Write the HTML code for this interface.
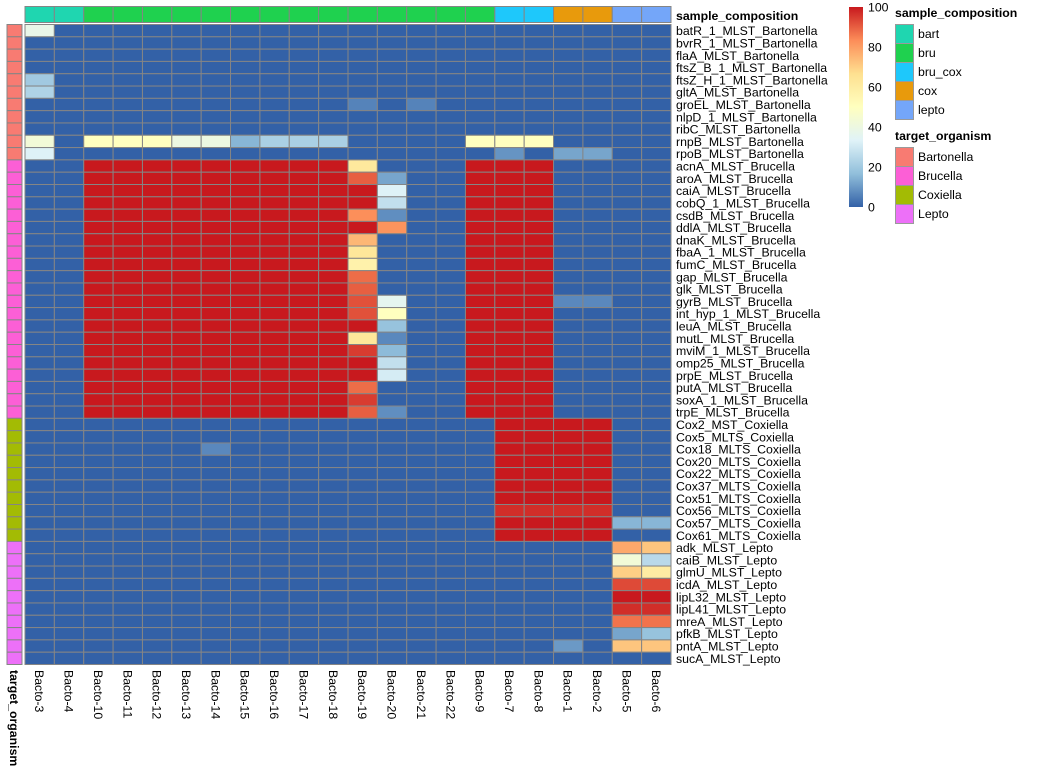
<!DOCTYPE html>
<html><head><meta charset="utf-8"><style>
body{margin:0;background:#fff;font-family:"Liberation Sans",sans-serif}
svg text{font-family:"Liberation Sans",sans-serif}
</style></head><body>
<svg id="chart" width="1057" height="774" xmlns="http://www.w3.org/2000/svg"></svg>
<script>
const columns=["Bacto-3","Bacto-4","Bacto-10","Bacto-11","Bacto-12","Bacto-13","Bacto-14","Bacto-15","Bacto-16","Bacto-17","Bacto-18","Bacto-19","Bacto-20","Bacto-21","Bacto-22","Bacto-9","Bacto-7","Bacto-8","Bacto-1","Bacto-2","Bacto-5","Bacto-6"];
const colGroups=["bart","bart","bru","bru","bru","bru","bru","bru","bru","bru","bru","bru","bru","bru","bru","bru","bru_cox","bru_cox","cox","cox","lepto","lepto"];
const rows=["batR_1_MLST_Bartonella","bvrR_1_MLST_Bartonella","flaA_MLST_Bartonella","ftsZ_B_1_MLST_Bartonella","ftsZ_H_1_MLST_Bartonella","gltA_MLST_Bartonella","groEL_MLST_Bartonella","nlpD_1_MLST_Bartonella","ribC_MLST_Bartonella","rnpB_MLST_Bartonella","rpoB_MLST_Bartonella",
"acnA_MLST_Brucella","aroA_MLST_Brucella","caiA_MLST_Brucella","cobQ_1_MLST_Brucella","csdB_MLST_Brucella","ddlA_MLST_Brucella","dnaK_MLST_Brucella","fbaA_1_MLST_Brucella","fumC_MLST_Brucella","gap_MLST_Brucella","glk_MLST_Brucella","gyrB_MLST_Brucella","int_hyp_1_MLST_Brucella","leuA_MLST_Brucella","mutL_MLST_Brucella","mviM_1_MLST_Brucella","omp25_MLST_Brucella","prpE_MLST_Brucella","putA_MLST_Brucella","soxA_1_MLST_Brucella","trpE_MLST_Brucella",
"Cox2_MST_Coxiella","Cox5_MLTS_Coxiella","Cox18_MLTS_Coxiella","Cox20_MLTS_Coxiella","Cox22_MLTS_Coxiella","Cox37_MLTS_Coxiella","Cox51_MLTS_Coxiella","Cox56_MLTS_Coxiella","Cox57_MLTS_Coxiella","Cox61_MLTS_Coxiella",
"adk_MLST_Lepto","caiB_MLST_Lepto","glmU_MLST_Lepto","icdA_MLST_Lepto","lipL32_MLST_Lepto","lipL41_MLST_Lepto","mreA_MLST_Lepto","pfkB_MLST_Lepto","pntA_MLST_Lepto","sucA_MLST_Lepto"];
const rowGroups=[].concat(Array(11).fill("Bartonella"),Array(21).fill("Brucella"),Array(10).fill("Coxiella"),Array(10).fill("Lepto"));
// Brucella columns 19 and 20 values
const bru19=[62,90,100,100,83,100,75,63,57,88,90,92,92,100,63,95,100,100,88,95,90];
const bru20=[0,12,33,27,8,82,0,0,0,0,0,36,50,18,7,16,27,31,0,0,8];
const values=[
[38,0,0,0,0,0,0,0,0,0,0,0,0,0,0,0,0,0,0,0,0,0],
[0,0,0,0,0,0,0,0,0,0,0,0,0,0,0,0,0,0,0,0,0,0],
[0,0,0,0,0,0,0,0,0,0,0,0,0,0,0,0,0,0,0,0,0,0],
[0,0,0,0,0,0,0,0,0,0,0,0,0,0,0,0,0,0,0,0,0,0],
[20,0,0,0,0,0,0,0,0,0,0,0,0,0,0,0,0,0,0,0,0,0],
[23,0,0,0,0,0,0,0,0,0,0,0,0,0,0,0,0,0,0,0,0,0],
[0,0,0,0,0,0,0,0,0,0,0,6,0,6,0,0,0,0,0,0,0,0],
[0,0,0,0,0,0,0,0,0,0,0,0,0,0,0,0,0,0,0,0,0,0],
[0,0,0,0,0,0,0,0,0,0,0,0,0,0,0,0,0,0,0,0,0,0],
[43,0,50,50,50,40,40,15,22,22,22,0,0,0,0,50,50,50,0,0,0,0],
[33,0,0,0,0,0,0,0,0,0,0,0,0,0,0,0,9,0,12,12,0,0]];
for(let i=0;i<21;i++){values.push([0,0,100,100,100,100,100,100,100,100,100,bru19[i],bru20[i],0,0,100,100,100,i==11?7:0,i==11?7:0,0,0]);}
const coxMax=[100,100,100,100,100,100,100,97,100,100];
for(let i=0;i<10;i++){const m=coxMax[i];values.push([0,0,0,0,0,0,i==2?7:0,0,0,0,0,0,0,0,0,0,m,m,m,m,i==8?15:0,i==8?15:0]);}
const lep5=[78,43,70,93,100,97,87,12,72,0];
const lep6=[72,25,60,93,100,97,87,18,72,0];
const lep1=[0,0,0,0,0,0,0,0,10,0];
for(let i=0;i<10;i++){values.push([0,0,0,0,0,0,0,0,0,0,0,0,0,0,0,0,0,0,lep1[i],0,lep5[i],lep6[i]]);}
const colTicks=[0,20,40,60,80,100];

const groupColors={bart:"#1fd6b0",bru:"#1fd14f",bru_cox:"#1ec8fb",cox:"#e89a0c",lepto:"#74a6f9",Bartonella:"#f87b72",Brucella:"#fc5fd6",Coxiella:"#a3bb04",Lepto:"#ed70f8"};
const stops=["#3361a7","#91bfdb","#e0f3f8","#ffffbf","#fee090","#fc8d59","#c8191e"];
function hex(c){return[1,3,5].map(i=>parseInt(c.substr(i,2),16));}
function color(v){const t=Math.max(0,Math.min(1,v/100))*(stops.length-1);const i=Math.min(stops.length-2,Math.floor(t));const f=t-i;const a=hex(stops[i]),b=hex(stops[i+1]);return"rgb("+a.map((x,k)=>Math.round(x+(b[k]-x)*f)).join(",")+")";}
const NS="http://www.w3.org/2000/svg";const svg=document.getElementById("chart");
function el(tag,attrs,parent){const e=document.createElementNS(NS,tag);for(const k in attrs)e.setAttribute(k,attrs[k]);(parent||svg).appendChild(e);return e;}
const X0=25,X1=671,Y0=24.5,Y1=664.5;
const cw=(X1-X0)/columns.length,rh=(Y1-Y0)/rows.length;
const xs=i=>X0+i*cw, ys=j=>Y0+j*rh;
// cells
for(let j=0;j<rows.length;j++){for(let i=0;i<columns.length;i++){
const r=el("rect",{x:xs(i),y:ys(j),width:cw,height:rh,fill:color(values[j][i]),stroke:"#858585","stroke-width":1});

}}
// column annotation
for(let i=0;i<columns.length;i++){const r=el("rect",{x:xs(i),y:6.5,width:cw,height:16,fill:groupColors[colGroups[i]],stroke:"#858585","stroke-width":1});

}
// row annotation
for(let j=0;j<rows.length;j++){const r=el("rect",{x:7,y:ys(j),width:15,height:rh,fill:groupColors[rowGroups[j]],stroke:"#858585","stroke-width":1});

}
// row labels
for(let j=0;j<rows.length;j++){const t=el("text",{x:676,y:ys(j)+rh/2+4.5,"font-size":12.3,fill:"#000"});t.textContent=rows[j];

}
// column labels
for(let i=0;i<columns.length;i++){const cx=xs(i)+cw/2-4.5;const t=el("text",{x:0,y:0,"font-size":12.3,fill:"#000",transform:"translate("+cx+",670) rotate(90)"});t.textContent=columns[i];

}
let t=el("text",{x:676,y:20,"font-size":12.3,"font-weight":"bold"});t.textContent="sample_composition";

t=el("text",{x:0,y:0,"font-size":12.3,"font-weight":"bold",transform:"translate(10,670) rotate(90)"});t.textContent="target_organism";

// colorbar
const defs=el("defs",{});const g=el("linearGradient",{id:"cb",x1:0,y1:1,x2:0,y2:0},defs);
stops.forEach((s,k)=>el("stop",{offset:k/(stops.length-1),"stop-color":s},g));
const cb=el("rect",{x:849,y:7,width:14,height:200,fill:"url(#cb)"});

colTicks.forEach(v=>{const y=207-v/100*200;const tt=el("text",{x:868,y:y+4.5,"font-size":12.3});tt.textContent=v;
});
// legends
function legend(title,items,y0){let tt=el("text",{x:895,y:y0,"font-size":12.3,"font-weight":"bold"});tt.textContent=title;

items.forEach((it,k)=>{const y=y0+7+k*19;const r=el("rect",{x:895.5,y:y+0.5,width:18,height:19,fill:groupColors[it],stroke:"#9a9a9a","stroke-width":1});

const l=el("text",{x:918,y:y+14,"font-size":12.3});l.textContent=it;
});}
legend("sample_composition",["bart","bru","bru_cox","cox","lepto"],17);
legend("target_organism",["Bartonella","Brucella","Coxiella","Lepto"],140);
</script>
</body></html>
